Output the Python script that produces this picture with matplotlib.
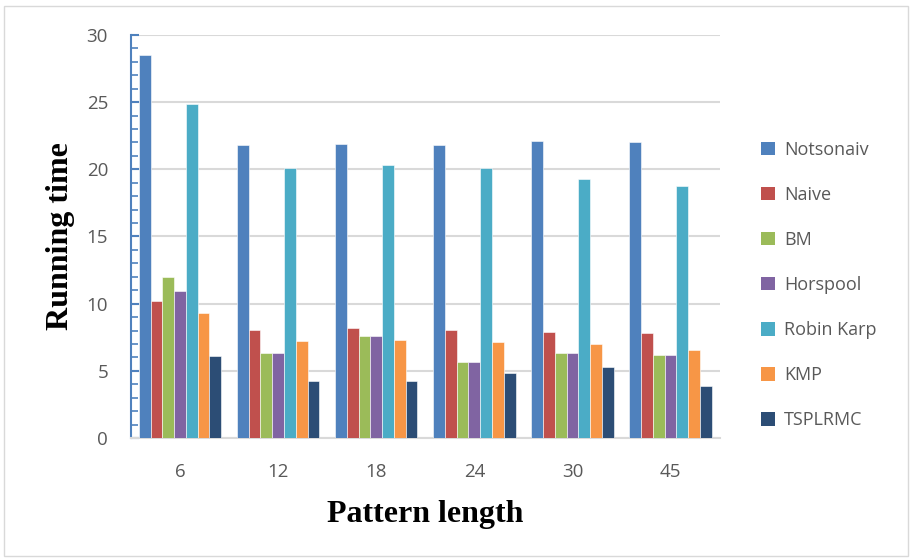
import numpy as np
import matplotlib.pyplot as plt
from matplotlib.patches import Rectangle, Patch

patterns = ["6", "12", "18", "24", "30", "45"]
series = ["Notsonaiv", "Naive", "BM", "Horspool", "Robin Karp", "KMP", "TSPLRMC"]
notsonaiv = [28.5, 21.8, 21.9, 21.8, 22.1, 22.0]
naive = [10.2, 8.05, 8.2, 8.05, 7.9, 7.8]
bm = [11.95, 6.35, 7.6, 5.65, 6.3, 6.2]
horspool = [10.95, 6.35, 7.6, 5.65, 6.3, 6.2]
robin_karp = [24.9, 20.1, 20.3, 20.1, 19.3, 18.75]
kmp = [9.3, 7.25, 7.3, 7.15, 7.0, 6.55]
tsplrmc = [6.1, 4.25, 4.25, 4.8, 5.3, 3.85]
values = [notsonaiv, naive, bm, horspool, robin_karp, kmp, tsplrmc]
colors = ["#4F81BD", "#C0504D", "#9BBB59", "#8064A2", "#4BACC6", "#F79646", "#2C4D75"]

fig = plt.figure(figsize=(9.12, 5.59), dpi=100)
ax = fig.add_axes([0.1436, 0.2165, 0.789 - 0.1436, 0.9374 - 0.2165])

# outer chart border
fig.patches.append(Rectangle((0.004, 0.006), 0.992, 0.984, transform=fig.transFigure,
                             fill=False, edgecolor="#D9D9D9", linewidth=1))

x = np.arange(len(patterns))
width = 0.84 / len(series)
for i, (name, vals) in enumerate(zip(series, values)):
    ax.bar(x - 0.42 + width * (i + 0.5), vals, width, color=colors[i],
           edgecolor="white", linewidth=0.4, label=name, zorder=3)

ax.set_xlim(-0.5, len(patterns) - 0.5)
ax.set_ylim(0, 30)
ax.set_yticks(range(0, 31, 5))
ax.set_yticks(range(0, 31, 1), minor=True)
ax.set_xticks(x)
ax.set_xticklabels(patterns)
ax.yaxis.grid(True, color="#D9D9D9", linewidth=1.5, zorder=0)
ax.set_axisbelow(True)

for s in ["top", "right"]:
    ax.spines[s].set_visible(False)
ax.spines["left"].set_color("#4F81BD")
ax.spines["left"].set_linewidth(1.5)
ax.spines["bottom"].set_color("#D9D9D9")
ax.spines["bottom"].set_linewidth(1.5)

ax.tick_params(axis="y", which="major", direction="in", length=6, width=1.5,
               color="#4F81BD", labelsize=13.5, labelcolor="#595959", pad=16.5)
ax.tick_params(axis="y", which="minor", direction="in", length=5, width=1.2, color="#4F81BD")
ax.tick_params(axis="x", length=0, labelsize=13.5, labelcolor="#595959", pad=18)
for lab in ax.get_xticklabels() + ax.get_yticklabels():
    lab.set_family("Open Sans")

ax.set_ylabel("Running time", fontsize=23, fontweight="bold", family="Liberation Serif", labelpad=8)
ax.set_xlabel("Pattern length", fontsize=23, fontweight="bold", family="Liberation Serif", labelpad=14)

handles = [Patch(facecolor=c, label=n) for c, n in zip(colors, series)]
leg = fig.legend(handles=handles, loc="upper left", bbox_to_anchor=(0.817, 0.777),
                 frameon=False, prop={"family": "Open Sans", "size": 13},
                 labelspacing=1.5, handlelength=0.75, handleheight=0.75, handletextpad=0.5)
for t in leg.get_texts():
    t.set_color("#595959")

fig.savefig("out.png", dpi=100)
